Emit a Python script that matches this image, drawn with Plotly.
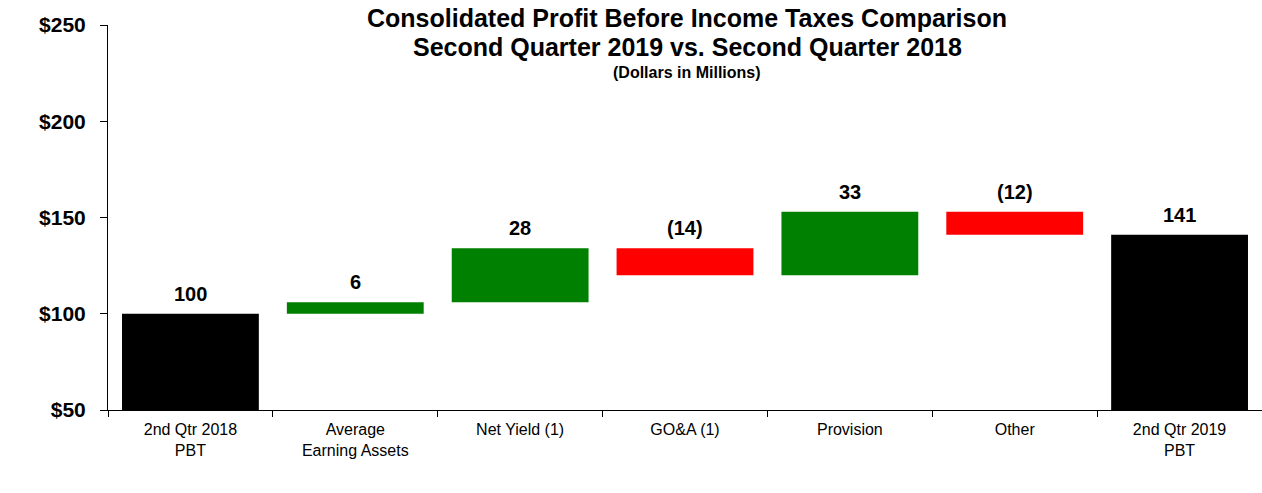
import plotly.graph_objects as go

categories = ["2nd Qtr 2018<br>PBT", "Average<br>Earning Assets", "Net Yield (1)", "GO&A (1)",
              "Provision", "Other", "2nd Qtr 2019<br>PBT"]
measures = ["absolute", "relative", "relative", "relative", "relative", "relative", "total"]
values = [100, 6, 28, -14, 33, -12, 141]
labels = ["100", "6", "28", "(14)", "33", "(12)", "141"]
y_ticks = [50, 100, 150, 200, 250]
y_tick_text = ["$50", "$100", "$150", "$200", "$250"]

FONT = "Arial, Liberation Sans, sans-serif"

bases, heights, colors, tops = [], [], [], []
running = 0
for m, v in zip(measures, values):
    if m == "absolute":
        running = v
        bases.append(0); heights.append(v); colors.append("#000000")
    elif m == "total":
        bases.append(0); heights.append(running); colors.append("#000000")
    else:
        start = running
        running = running + v
        bases.append(min(start, running)); heights.append(abs(v))
        colors.append("#008000" if v > 0 else "#FF0000")
    tops.append(bases[-1] + heights[-1])

fig = go.Figure()
fig.add_trace(go.Bar(x=categories, y=heights, base=bases, marker=dict(color=colors, line=dict(width=0)),
                     width=0.83, showlegend=False, hoverinfo="skip"))

for c, t, lab in zip(categories, tops, labels):
    fig.add_annotation(x=c, y=t, text="<b>%s</b>" % lab, showarrow=False, yanchor="bottom",
                       yshift=7, font=dict(family=FONT, size=20, color="black"))

PH = 385.0
def py(px):
    return (410 - px) / PH

TX = (687 - 108) / 1154.0
fig.add_annotation(xref="paper", yref="paper", x=TX, y=py(18), yanchor="middle", showarrow=False,
                   text="<b>Consolidated Profit Before Income Taxes Comparison</b>",
                   font=dict(family=FONT, size=25, color="black"))
fig.add_annotation(xref="paper", yref="paper", x=TX, y=py(47), yanchor="middle", showarrow=False,
                   text="<b>Second Quarter 2019 vs. Second Quarter 2018</b>",
                   font=dict(family=FONT, size=25, color="black"))
fig.add_annotation(xref="paper", yref="paper", x=TX, y=py(72), yanchor="middle", showarrow=False,
                   text="<b>(Dollars in Millions)</b>",
                   font=dict(family=FONT, size=16, color="black"))

fig.update_layout(
    width=1262, height=493,
    margin=dict(l=108, r=0, t=25, b=83),
    paper_bgcolor="white", plot_bgcolor="white",
    font=dict(family=FONT, color="black"),
    xaxis=dict(type="category", range=[-0.5, 6.5], showline=True, linecolor="black", linewidth=1,
               ticks="outside", tickson="boundaries", ticklen=6, tickcolor="black",
               showgrid=False, zeroline=False, ticklabelstandoff=5,
               tickfont=dict(family=FONT, size=16, color="black")),
    yaxis=dict(range=[50, 250], tickvals=y_ticks, ticktext=y_tick_text, showline=True, linecolor="black",
               linewidth=1, ticks="outside", ticklen=7, tickcolor="black", showgrid=False, zeroline=False,
               ticklabelstandoff=10,
               tickfont=dict(family=FONT, size=21, color="black", weight="bold")),
    bargap=0.17,
)

fig.write_html("out.html")
